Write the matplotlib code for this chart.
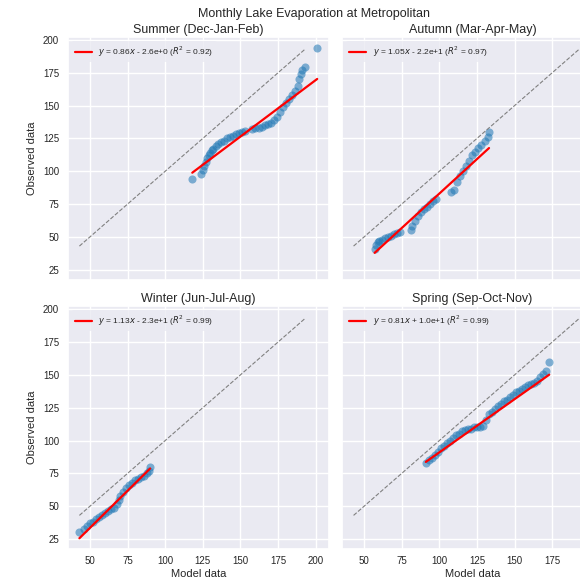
import numpy as np
import matplotlib
matplotlib.use("Agg")
import matplotlib.pyplot as plt
import seaborn as sns

sns.set_theme(style="darkgrid")
plt.rcParams["font.family"] = ["Liberation Sans", "DejaVu Sans"]

titles = ["Summer (Dec-Jan-Feb)", "Autumn (Mar-Apr-May)",
          "Winter (Jun-Jul-Aug)", "Spring (Sep-Oct-Nov)"]

# sorted model vs sorted observed (q-q)
summer_model = [118, 124, 125, 126, 127, 128, 129, 130, 131, 132, 134, 135, 137, 139,
                141, 143, 145, 147, 149, 151, 153, 158, 160, 162, 164, 166, 168, 170,
                172, 174, 176, 178, 180, 182, 184, 186, 188, 189, 190, 191, 193, 201]
summer_obs = [94, 98, 101, 104, 107, 110, 112, 114, 116, 117, 119, 121, 122, 123,
              125, 126, 127, 128, 129, 130, 131, 132, 133, 133, 134, 135, 136, 137,
              139, 141, 145, 149, 152, 155, 158, 161, 165, 170, 174, 177, 179, 194]

autumn_model = [57, 58, 59, 60, 62, 64, 66, 68, 70, 72, 74, 81, 82, 84, 86, 88, 90, 92,
                94, 96, 98, 108, 110, 112, 114, 116, 118, 120, 122, 124, 126, 128, 130,
                132, 133]
autumn_obs = [41, 44, 46, 47, 48, 49, 50, 51, 52, 53, 54, 55, 58, 62, 66, 69, 71, 73,
              75, 77, 79, 84, 86, 92, 96, 100, 104, 108, 112, 115, 118, 120, 123,
              126, 130]

winter_model = [43, 46, 48, 50, 52, 54, 56, 58, 60, 62, 64, 66, 68, 69, 70, 72, 74, 76,
                78, 80, 82, 84, 86, 88, 89, 90]
winter_obs = [30, 33, 35, 37, 38, 40, 42, 43, 45, 46, 48, 49, 52, 55, 58, 61, 64, 66,
              68, 70, 71, 72, 73, 75, 77, 80]

spring_model = [91, 93, 95, 97, 99, 101, 103, 105, 107, 109, 111, 113, 115, 117, 119,
                121, 123, 125, 127, 129, 131, 133, 135, 137, 139, 141, 143, 145, 147,
                149, 151, 153, 155, 157, 159, 161, 163, 165, 167, 169, 171, 173]
spring_obs = [83, 85, 87, 89, 91, 94, 96, 98, 100, 102, 104, 105, 107, 108, 109, 109,
              110, 110, 110, 111, 116, 120, 122, 124, 126, 128, 130, 131, 133, 135,
              137, 138, 139, 141, 142, 143, 144, 145, 148, 151, 153, 160]

slopes = [0.86, 1.05, 1.13, 0.81]
intercepts = [-2.6, -22, -23, 10]
r2 = [0.92, 0.97, 0.99, 0.99]

diag = [43, 193]

models = [summer_model, autumn_model, winter_model, spring_model]
obs = [summer_obs, autumn_obs, winter_obs, spring_obs]

fig = plt.figure(figsize=(5.8, 5.8), dpi=100)
w, h = 0.451, 0.4195
ax0 = fig.add_axes([0.1164, 0.5172, w, h])
axes = [ax0,
        fig.add_axes([0.5891, 0.5172, w, h], sharex=ax0, sharey=ax0),
        fig.add_axes([0.1164, 0.0529, w, h], sharex=ax0, sharey=ax0),
        fig.add_axes([0.5891, 0.0529, w, h], sharex=ax0, sharey=ax0)]

for i, ax in enumerate(axes):
    x = np.array(models[i])
    y = np.array(obs[i])
    ax.scatter(x, y, s=34, color="#1f77b4", alpha=0.55, linewidths=0)
    b = intercepts[i]
    sign = "-" if b < 0 else "+"
    bs = "{:.1e}".format(abs(b)).replace("e+0", "e+")
    lab = "$y$ = {:.2f}$x$ {} {} ($R^2$ = {:.2f})".format(slopes[i], sign, bs, r2[i])
    xx = np.array([x.min(), x.max()])
    ax.plot(xx, slopes[i] * xx + b, color="red", lw=1.6, label=lab)
    ax.plot(diag, diag, color="gray", ls="--", lw=0.8)
    ax.set_title(titles[i], fontsize=9, pad=3)
    leg = ax.legend(loc="upper left", fontsize=6, facecolor="#EAEAF2",
                    edgecolor="none", framealpha=0.8)
    ax.tick_params(labelsize=7, length=0)
    ax.tick_params(axis="x", pad=5)
    ax.tick_params(axis="y", pad=6)
    ax.set_xticks([50, 75, 100, 125, 150, 175, 200])
    ax.set_yticks([25, 50, 75, 100, 125, 150, 175, 200])
    if i < 2:
        ax.tick_params(labelbottom=False)
    else:
        ax.set_xlabel("Model data", fontsize=8, labelpad=2)
    if i % 2 == 1:
        ax.tick_params(labelleft=False)
    else:
        ax.set_ylabel("Observed data", fontsize=8, labelpad=4)

fig.text(0.542, 0.976, "Monthly Lake Evaporation at Metropolitan", ha="center",
         va="center", fontsize=9)
plt.savefig("out.png", dpi=100)
